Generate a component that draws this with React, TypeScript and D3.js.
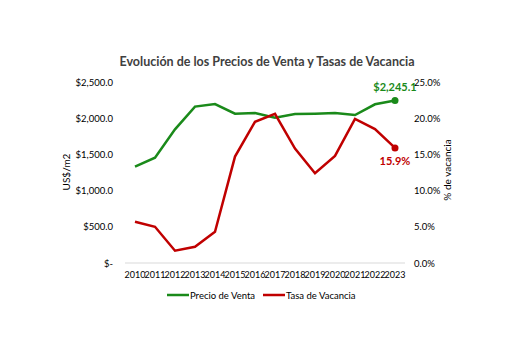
import { useRef, useEffect } from "react";
import * as d3 from "d3";

const years = ["2010", "2011", "2012", "2013", "2014", "2015", "2016", "2017", "2018", "2019", "2020", "2021", "2022", "2023"];
const precioVenta = [1330, 1455, 1846, 2160, 2196, 2062, 2072, 2007, 2058, 2062, 2072, 2044, 2192, 2245.1];
const tasaVacancia = [5.7, 5.0, 1.7, 2.25, 4.3, 14.7, 19.5, 20.6, 15.8, 12.4, 14.8, 19.9, 18.5, 15.9];
const leftTicks = [0, 500, 1000, 1500, 2000, 2500];
const rightTicks = [0, 5, 10, 15, 20, 25];

const GREEN = "#1A8A1A";
const RED = "#C00000";
const FONT = "Lato, 'DejaVu Sans', sans-serif";

export default function App() {
  const ref = useRef<SVGSVGElement>(null);

  useEffect(() => {
    const svg = d3.select(ref.current);
    svg.selectAll("*").remove();

    const x = d3.scaleBand().domain(years).range([125, 405]);
    const yL = d3.scaleLinear().domain([0, 2500]).range([263, 82]);
    const yR = d3.scaleLinear().domain([0, 25]).range([263, 82]);
    const cx = (d: string) => x(d)! + x.bandwidth() / 2;

    svg
      .append("text")
      .attr("x", 267)
      .attr("y", 66)
      .attr("text-anchor", "middle")
      .attr("font-family", FONT)
      .attr("font-weight", "bold")
      .attr("font-size", 12.5)
      .attr("fill", "#404040")
      .text("Evolución de los Precios de Venta y Tasas de Vacancia");

    // baseline
    svg
      .append("line")
      .attr("x1", 125)
      .attr("x2", 405)
      .attr("y1", yL(0))
      .attr("y2", yL(0))
      .attr("stroke", "#d9d9d9")
      .attr("stroke-width", 1);

    const fmtL = (v: number) => (v === 0 ? "$-" : "$" + d3.format(",.1f")(v));
    svg
      .append("g")
      .selectAll("text")
      .data(leftTicks)
      .join("text")
      .attr("x", 113)
      .attr("y", (d) => yL(d) + 3.5)
      .attr("text-anchor", "end")
      .attr("font-family", FONT)
      .attr("font-size", 9.5)
      .attr("fill", "#000")
      .text(fmtL);

    svg
      .append("g")
      .selectAll("text")
      .data(rightTicks)
      .join("text")
      .attr("x", 414)
      .attr("y", (d) => yR(d) + 3.5)
      .attr("font-family", FONT)
      .attr("font-size", 9.5)
      .attr("fill", "#000")
      .text((d) => d3.format(".1f")(d) + "%");

    svg
      .append("g")
      .selectAll("text")
      .data(years)
      .join("text")
      .attr("x", (d) => cx(d))
      .attr("y", 278)
      .attr("text-anchor", "middle")
      .attr("font-family", FONT)
      .attr("font-size", 9)
      .attr("fill", "#000")
      .text((d) => d);

    svg
      .append("text")
      .attr("transform", "translate(70,172) rotate(-90)")
      .attr("text-anchor", "middle")
      .attr("font-family", FONT)
      .attr("font-size", 10)
      .attr("fill", "#000")
      .text("US$/m2");

    svg
      .append("text")
      .attr("transform", "translate(451,170) rotate(-90)")
      .attr("text-anchor", "middle")
      .attr("font-family", FONT)
      .attr("font-size", 10)
      .attr("fill", "#000")
      .text("% de vacancia");

    const lineL = d3
      .line<number>()
      .x((_, i) => cx(years[i]))
      .y((d) => yL(d));
    const lineR = d3
      .line<number>()
      .x((_, i) => cx(years[i]))
      .y((d) => yR(d));

    svg
      .append("path")
      .attr("d", lineL(precioVenta)!)
      .attr("fill", "none")
      .attr("stroke", GREEN)
      .attr("stroke-width", 2.5);
    svg
      .append("path")
      .attr("d", lineR(tasaVacancia)!)
      .attr("fill", "none")
      .attr("stroke", RED)
      .attr("stroke-width", 2.5);

    const last = years.length - 1;
    svg
      .append("circle")
      .attr("cx", cx(years[last]))
      .attr("cy", yL(precioVenta[last]))
      .attr("r", 3.5)
      .attr("fill", GREEN);
    svg
      .append("circle")
      .attr("cx", cx(years[last]))
      .attr("cy", yR(tasaVacancia[last]))
      .attr("r", 3.5)
      .attr("fill", RED);

    svg
      .append("text")
      .attr("x", cx(years[last]))
      .attr("y", yL(precioVenta[last]) - 9)
      .attr("text-anchor", "middle")
      .attr("font-family", FONT)
      .attr("font-weight", "bold")
      .attr("font-size", 11)
      .attr("fill", GREEN)
      .text("$" + d3.format(",.1f")(precioVenta[last]));
    svg
      .append("text")
      .attr("x", cx(years[last]))
      .attr("y", yR(tasaVacancia[last]) + 17)
      .attr("text-anchor", "middle")
      .attr("font-family", FONT)
      .attr("font-weight", "bold")
      .attr("font-size", 11)
      .attr("fill", RED)
      .text(d3.format(".1f")(tasaVacancia[last]) + "%");

    // legend
    const legend = [
      { label: "Precio de Venta", color: GREEN, x: 167 },
      { label: "Tasa de Vacancia", color: RED, x: 263 },
    ];
    const lg = svg.append("g").selectAll("g").data(legend).join("g");
    lg.append("line")
      .attr("x1", (d) => d.x)
      .attr("x2", (d) => d.x + 22)
      .attr("y1", 295)
      .attr("y2", 295)
      .attr("stroke", (d) => d.color)
      .attr("stroke-width", 2.5);
    lg.append("text")
      .attr("x", (d) => d.x + 23)
      .attr("y", 298.5)
      .attr("font-family", FONT)
      .attr("font-size", 9.5)
      .attr("fill", "#000")
      .text((d) => d.label);
  }, []);

  return (
    <svg
      ref={ref}
      width={531}
      height={353}
      style={{ position: "absolute", left: 0, top: 0, background: "#fff" }}
    />
  );
}
